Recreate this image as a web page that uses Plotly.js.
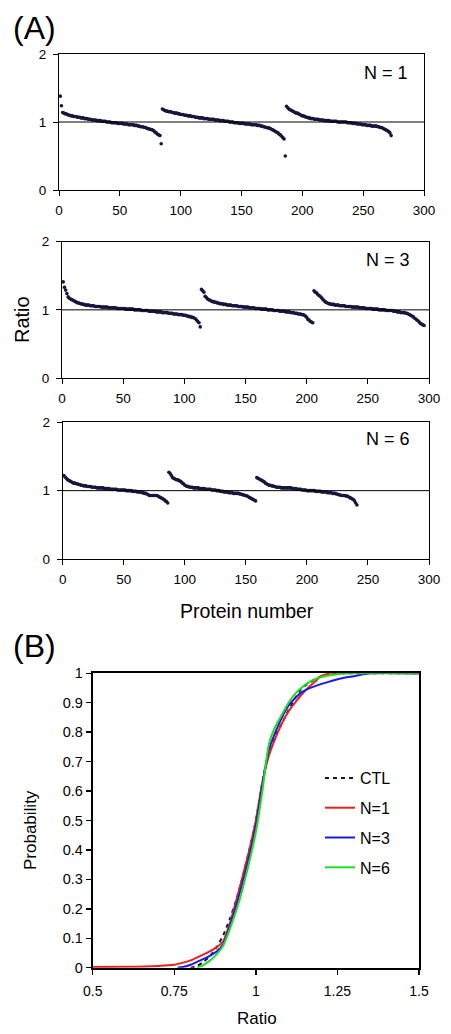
<!DOCTYPE html>
<html>
<head>
<meta charset="utf-8">
<script src="https://cdn.plot.ly/plotly-3.0.1.min.js"></script>
<style>html,body{margin:0;padding:0;background:#fff;}#chart{width:451px;height:1034px;}</style>
</head>
<body>
<div id="chart"></div>
<script>
// ---- Panel A data: sorted ratios per protein (three replicate blocks each) ----
const n1Ratios = [
 1.38,1.24,1.14,1.13,1.12,1.12,1.11,1.10,1.10,1.09,
 1.09,1.08,1.08,1.08,1.07,1.07,1.07,1.06,1.06,1.06,
 1.05,1.05,1.05,1.04,1.04,1.04,1.03,1.03,1.03,1.03,
 1.02,1.02,1.02,1.02,1.01,1.01,1.01,1.01,1.00,1.00,
 1.00,1.00,0.99,0.99,0.99,0.99,0.99,0.98,0.98,0.98,
 0.98,0.98,0.97,0.97,0.97,0.97,0.96,0.96,0.96,0.96,
 0.96,0.95,0.95,0.95,0.94,0.94,0.93,0.93,0.93,0.92,
 0.92,0.91,0.90,0.90,0.89,0.89,0.88,0.87,0.85,0.84,
 0.82,0.81,0.80,0.68,
 1.19,1.18,1.17,1.16,1.16,1.15,1.15,1.15,1.14,1.14,
 1.13,1.13,1.13,1.12,1.12,1.11,1.11,1.11,1.10,1.10,
 1.10,1.09,1.09,1.09,1.08,1.08,1.08,1.07,1.07,1.07,
 1.06,1.06,1.06,1.06,1.05,1.05,1.05,1.05,1.04,1.04,
 1.04,1.04,1.04,1.03,1.03,1.03,1.03,1.02,1.02,1.02,
 1.02,1.01,1.01,1.01,1.01,1.00,1.00,1.00,1.00,0.99,
 0.99,0.99,0.99,0.98,0.98,0.98,0.98,0.98,0.97,0.97,
 0.97,0.97,0.97,0.96,0.96,0.96,0.96,0.96,0.95,0.95,
 0.95,0.94,0.94,0.93,0.93,0.92,0.92,0.91,0.91,0.90,
 0.89,0.88,0.87,0.86,0.85,0.84,0.82,0.81,0.79,0.77,
 0.75,0.50,
 1.23,1.21,1.19,1.18,1.17,1.16,1.15,1.14,1.13,1.13,
 1.12,1.11,1.10,1.09,1.09,1.08,1.07,1.07,1.06,1.06,
 1.05,1.05,1.05,1.04,1.04,1.04,1.04,1.03,1.03,1.03,
 1.03,1.02,1.02,1.02,1.02,1.02,1.01,1.01,1.01,1.01,
 1.01,1.01,1.00,1.00,1.00,1.00,1.00,1.00,1.00,1.00,
 0.99,0.99,0.99,0.99,0.98,0.98,0.98,0.98,0.97,0.97,
 0.97,0.97,0.96,0.96,0.96,0.96,0.95,0.95,0.95,0.95,
 0.94,0.94,0.94,0.94,0.94,0.93,0.93,0.92,0.92,0.91,
 0.90,0.89,0.88,0.87,0.86,0.84,0.80
];
const n3Ratios = [
 1.41,1.33,1.29,1.24,1.19,1.17,1.16,1.15,1.14,1.13,
 1.12,1.11,1.10,1.10,1.09,1.09,1.08,1.08,1.07,1.07,
 1.07,1.07,1.06,1.06,1.06,1.06,1.05,1.05,1.05,1.05,
 1.05,1.04,1.04,1.04,1.04,1.04,1.04,1.03,1.03,1.03,
 1.03,1.03,1.03,1.03,1.02,1.02,1.02,1.02,1.02,1.02,
 1.02,1.01,1.01,1.01,1.01,1.01,1.01,1.01,1.00,1.00,
 1.00,1.00,1.00,1.00,0.99,0.99,0.99,0.99,0.99,0.99,
 0.98,0.98,0.98,0.98,0.98,0.98,0.97,0.97,0.97,0.97,
 0.97,0.96,0.96,0.96,0.96,0.96,0.95,0.95,0.95,0.95,
 0.94,0.94,0.94,0.94,0.93,0.93,0.93,0.93,0.92,0.92,
 0.92,0.91,0.91,0.90,0.90,0.89,0.89,0.88,0.87,0.85,
 0.83,0.81,0.75,
 1.30,1.28,1.26,1.20,1.18,1.16,1.15,1.14,1.13,1.12,
 1.12,1.11,1.11,1.10,1.10,1.09,1.09,1.09,1.08,1.08,
 1.08,1.07,1.07,1.07,1.07,1.06,1.06,1.06,1.06,1.06,
 1.05,1.05,1.05,1.05,1.04,1.04,1.04,1.04,1.04,1.03,
 1.03,1.03,1.03,1.03,1.02,1.02,1.02,1.02,1.02,1.01,
 1.01,1.01,1.01,1.01,1.00,1.00,1.00,1.00,1.00,0.99,
 0.99,0.99,0.99,0.99,0.98,0.98,0.98,0.98,0.98,0.97,
 0.97,0.97,0.97,0.96,0.96,0.96,0.95,0.95,0.95,0.94,
 0.94,0.94,0.93,0.93,0.92,0.91,0.89,0.86,0.85,0.83,
 0.82,0.81,
 1.28,1.26,1.25,1.23,1.21,1.20,1.18,1.16,1.14,1.12,
 1.11,1.10,1.09,1.09,1.08,1.08,1.08,1.07,1.07,1.07,
 1.07,1.06,1.06,1.06,1.06,1.06,1.05,1.05,1.05,1.05,
 1.05,1.04,1.04,1.04,1.04,1.04,1.04,1.03,1.03,1.03,
 1.03,1.03,1.02,1.02,1.02,1.02,1.02,1.02,1.01,1.01,
 1.01,1.01,1.01,1.00,1.00,1.00,1.00,1.00,1.00,0.99,
 0.99,0.99,0.99,0.99,0.99,0.98,0.98,0.98,0.97,0.97,
 0.97,0.96,0.96,0.96,0.96,0.95,0.95,0.94,0.93,0.92,
 0.91,0.90,0.88,0.87,0.85,0.84,0.82,0.80,0.79,0.78,
 0.77
];
const n6Ratios = [
 1.22,1.20,1.18,1.16,1.15,1.14,1.13,1.12,1.11,1.11,
 1.10,1.10,1.09,1.09,1.08,1.08,1.07,1.07,1.07,1.06,
 1.06,1.06,1.06,1.05,1.05,1.05,1.05,1.04,1.04,1.04,
 1.04,1.04,1.04,1.03,1.03,1.03,1.03,1.03,1.02,1.02,
 1.02,1.02,1.02,1.02,1.01,1.01,1.01,1.01,1.01,1.01,
 1.01,1.00,1.00,1.00,1.00,1.00,0.99,0.99,0.99,0.99,
 0.98,0.98,0.98,0.98,0.97,0.97,0.96,0.96,0.95,0.94,
 0.93,0.93,0.93,0.93,0.93,0.93,0.93,0.92,0.91,0.90,
 0.89,0.88,0.87,0.85,0.84,0.82,
 1.27,1.25,1.22,1.19,1.18,1.17,1.16,1.16,1.15,1.14,
 1.13,1.11,1.10,1.08,1.07,1.06,1.06,1.05,1.05,1.05,
 1.04,1.04,1.04,1.04,1.04,1.03,1.03,1.03,1.03,1.03,
 1.02,1.02,1.02,1.02,1.02,1.01,1.01,1.01,1.01,1.00,
 1.00,1.00,0.99,0.99,0.99,0.98,0.98,0.98,0.98,0.97,
 0.97,0.97,0.97,0.96,0.96,0.96,0.96,0.96,0.95,0.95,
 0.94,0.94,0.93,0.93,0.92,0.91,0.90,0.89,0.88,0.87,
 0.86,0.85,
 1.19,1.18,1.17,1.16,1.15,1.14,1.13,1.11,1.10,1.09,
 1.08,1.08,1.07,1.07,1.06,1.06,1.05,1.05,1.05,1.05,
 1.04,1.04,1.04,1.04,1.04,1.04,1.04,1.04,1.04,1.03,
 1.03,1.03,1.03,1.02,1.02,1.02,1.02,1.01,1.01,1.01,
 1.01,1.00,1.00,1.00,1.00,1.00,1.00,1.00,0.99,0.99,
 0.99,0.99,0.99,0.98,0.98,0.98,0.98,0.98,0.97,0.97,
 0.97,0.97,0.96,0.96,0.96,0.95,0.95,0.94,0.94,0.93,
 0.93,0.93,0.93,0.92,0.92,0.91,0.90,0.89,0.88,0.87,
 0.85,0.82,0.79
];
const panelLabels = ["N = 1", "N = 3", "N = 6"];
const proteinTicks = [0, 50, 100, 150, 200, 250, 300];
const ratioTicks = [0, 1, 2];
const refRatio = 1;

// ---- Panel B data: cumulative probability vs ratio ----
const ctlX = [0.80,0.82,0.84,0.86,0.88,0.90,0.92,0.94,0.96,0.98,1.00,1.02,1.04,1.06,1.08,1.10,1.12,1.14,1.17,1.20,1.23,1.30,1.50];
const ctlP = [0.000,0.006,0.020,0.040,0.070,0.110,0.165,0.230,0.310,0.400,0.500,0.630,0.740,0.790,0.830,0.875,0.915,0.948,0.972,0.990,1.000,1.000,1.000];
const n1X = [0.50,0.60,0.70,0.75,0.78,0.80,0.83,0.85,0.88,0.90,0.92,0.95,0.98,1.00,1.02,1.04,1.06,1.08,1.10,1.12,1.15,1.18,1.20,1.23,1.50];
const n1P = [0.002,0.003,0.006,0.010,0.018,0.025,0.040,0.050,0.070,0.090,0.150,0.270,0.400,0.500,0.630,0.720,0.780,0.830,0.870,0.900,0.940,0.970,0.990,1.000,1.000];
const n3X = [0.76,0.78,0.80,0.82,0.85,0.88,0.90,0.92,0.95,0.98,1.00,1.02,1.04,1.06,1.08,1.10,1.12,1.14,1.16,1.19,1.22,1.26,1.30,1.35,1.50];
const n3P = [0.000,0.003,0.010,0.020,0.035,0.055,0.080,0.140,0.250,0.380,0.480,0.620,0.740,0.800,0.850,0.890,0.915,0.935,0.947,0.960,0.970,0.982,0.990,1.000,1.000];
const n6X = [0.82,0.84,0.86,0.88,0.90,0.92,0.95,0.98,1.00,1.02,1.04,1.06,1.08,1.10,1.12,1.15,1.18,1.21,1.25,1.30,1.50];
const n6P = [0.000,0.010,0.025,0.045,0.075,0.130,0.230,0.360,0.460,0.600,0.760,0.820,0.860,0.900,0.930,0.960,0.980,0.990,0.997,1.000,1.000];
const probTicks = [0,0.1,0.2,0.3,0.4,0.5,0.6,0.7,0.8,0.9,1];
const probTickText = ["0","0.1","0.2","0.3","0.4","0.5","0.6","0.7","0.8","0.9","1"];
const ratioTicksB = [0.5,0.75,1,1.25,1.5];
const ratioTickTextB = ["0.5","0.75","1","1.25","1.5"];

// ---- build ----
const W = 451, H = 1034;
const px = x => x / W;
const py = y => 1 - y / H;
const FONT = 'Arial, "Liberation Sans", sans-serif';
const dotColor = '#16163e';

const seriesA = [n1Ratios, n3Ratios, n6Ratios];
const traces = [];
seriesA.forEach((arr, i) => {
  const sfx = i === 0 ? '' : String(i + 1);
  traces.push({
    type: 'scatter', mode: 'markers',
    x: arr.map((_, k) => k + 1), y: arr,
    xaxis: 'x' + sfx, yaxis: 'y' + sfx,
    marker: {size: 3.6, color: dotColor},
    showlegend: false, hoverinfo: 'skip'
  });
});

const cdf = [
  {name: 'CTL', x: ctlX, y: ctlP, color: '#10105a', dash: '4px,4px'},
  {name: 'N=1', x: n1X, y: n1P, color: '#ee1c1c', dash: 'solid'},
  {name: 'N=3', x: n3X, y: n3P, color: '#1a1ae0', dash: 'solid'},
  {name: 'N=6', x: n6X, y: n6P, color: '#1ee01e', dash: 'solid'}
];
cdf.forEach((c, i) => {
  traces.push({
    type: 'scatter', mode: 'lines', name: c.name,
    x: c.x, y: c.y, xaxis: 'x4', yaxis: 'y4',
    line: {color: c.color, width: 2, dash: c.dash, shape: 'spline', smoothing: 0.6},
    legendgroup: 'g' + i, showlegend: true, hoverinfo: 'skip'
  });
});

// domains in pixels: [left, right, top, bottom]
const boxes = [
  [59, 424, 54, 190],
  [62, 429, 241.7, 378],
  [62.7, 429, 422.3, 559],
  [92.7, 419, 673.3, 967.7]
];
const layout = {
  width: W, height: H,
  margin: {l: 0, r: 0, t: 0, b: 0},
  paper_bgcolor: '#fff', plot_bgcolor: '#fff',
  font: {family: FONT, color: '#000', size: 12},
  showlegend: true,
  legend: {
    x: px(320), y: py(761), xanchor: 'left', yanchor: 'top',
    font: {family: FONT, size: 16, color: '#000'},
    bgcolor: 'rgba(0,0,0,0)', traceorder: 'grouped', tracegroupgap: 6,
    itemwidth: 30
  },
  shapes: [], annotations: []
};
for (let i = 0; i < 3; i++) {
  const sfx = i === 0 ? '' : String(i + 1);
  const b = boxes[i];
  layout['xaxis' + sfx] = {
    domain: [px(b[0]), px(b[1])], anchor: 'y' + sfx, range: [0, 300],
    tickvals: proteinTicks, ticktext: proteinTicks.map(String),
    ticks: 'outside', ticklen: 5, tickwidth: 1, tickcolor: '#000',
    showline: true, linecolor: '#000', linewidth: 1, mirror: true,
    showgrid: false, zeroline: false, tickfont: {size: 13.5, family: FONT},
    ticklabelstandoff: 3
  };
  layout['yaxis' + sfx] = {
    domain: [py(b[3]), py(b[2])], anchor: 'x' + sfx, range: [0, 2],
    tickvals: ratioTicks, ticktext: ratioTicks.map(String),
    ticks: 'outside', ticklen: 5, tickwidth: 1, tickcolor: '#000',
    showline: true, linecolor: '#000', linewidth: 1, mirror: true,
    showgrid: false, zeroline: false, tickfont: {size: 13.5, family: FONT},
    ticklabelstandoff: 4
  };
  layout.shapes.push({
    type: 'line', xref: 'x' + sfx + ' domain', yref: 'y' + sfx,
    x0: 0, x1: 1, y0: refRatio, y1: refRatio,
    line: {color: '#000', width: 1}
  });
  layout.annotations.push({
    text: panelLabels[i], xref: 'x' + sfx + ' domain', yref: 'y' + sfx + ' domain',
    x: [0.962, 0.954, 0.954][i], y: [0.86, 0.866, 0.878][i],
    xanchor: 'right', yanchor: 'middle', showarrow: false,
    font: {size: 18, family: FONT}
  });
}
const bb = boxes[3];
layout.xaxis4 = {
  domain: [px(bb[0]), px(bb[1])], anchor: 'y4', range: [0.5, 1.5],
  tickvals: ratioTicksB, ticktext: ratioTickTextB,
  ticks: 'outside', ticklen: 5, tickwidth: 1.5, tickcolor: '#000',
  showline: true, linecolor: '#000', linewidth: 2, mirror: true,
  showgrid: false, zeroline: false, tickfont: {size: 14, family: FONT},
  ticklabelstandoff: 4
};
layout.yaxis4 = {
  domain: [py(bb[3]), py(bb[2])], anchor: 'x4', range: [0, 1],
  tickvals: probTicks, ticktext: probTickText,
  ticks: 'outside', ticklen: 5, tickwidth: 1.5, tickcolor: '#000',
  showline: true, linecolor: '#000', linewidth: 2, mirror: true,
  showgrid: false, zeroline: false, tickfont: {size: 14.5, family: FONT}
};
const txt = (text, x, y, size, extra) => Object.assign({
  text, xref: 'paper', yref: 'paper', x: px(x), y: py(y),
  xanchor: 'center', yanchor: 'middle', showarrow: false,
  font: {size, family: FONT, color: '#000'}
}, extra || {});
layout.annotations.push(
  txt('(A)', 11, 28, 32, {xanchor: 'left'}),
  txt('(B)', 11, 646, 32, {xanchor: 'left'}),
  txt('Ratio', 22, 320, 20, {textangle: -90}),
  txt('Protein number', 247, 611, 19.5),
  txt('Ratio', 257, 1018, 17),
  txt('Probability', 30, 830, 17, {textangle: -90})
);

Plotly.newPlot('chart', traces, layout, {staticPlot: true, displayModeBar: false});
</script>
</body>
</html>
